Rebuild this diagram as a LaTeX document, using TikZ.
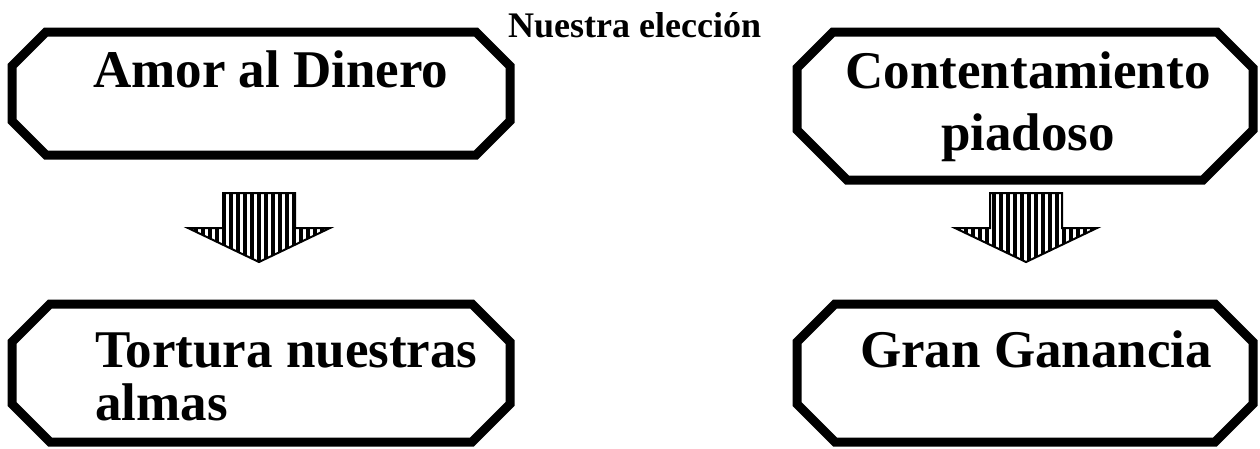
\documentclass[tikz,border=0pt]{standalone}
\usepackage{fontspec}
\setmainfont{Liberation Serif}
\usetikzlibrary{patterns.meta,positioning}
% caja octogonal: x1, y1, x2, y2, chaflan arriba, chaflan abajo
\newcommand{\cajaoct}[6]{%
  \draw[caja] (#1,#2+#5) -- (#1+#5,#2) -- (#3-#5,#2) -- (#3,#2+#5) -- (#3,#4-#6)
  -- (#3-#6,#4) -- (#1+#6,#4) -- (#1,#4-#6) -- cycle;}

\begin{document}
\begin{tikzpicture}[x=1pt,y=-1pt,
              caja/.style={draw,fill=white,line width=9pt,line join=miter},
              txt/.style={font=\fontsize{53}{54}\selectfont\bfseries,align=left,inner sep=0pt},
              flecha/.style={draw,line width=2pt,line join=miter,
                pattern={Lines[angle=90,distance=7pt,line width=3.5pt]}}]
              \useasboundingbox (0,0) rectangle (1260,448);
              \cajaoct{12}{32}{510}{155}{34}{34}
              \cajaoct{797}{32}{1253}{180}{36}{50}
              \cajaoct{12}{304}{510}{442}{38}{38}
              \cajaoct{797}{304}{1253}{442}{38}{38}
              \node[txt,anchor=base west] (amor) at (93,87) {Amor al Dinero};
              \node[txt,align=center,anchor=base,font=\fontsize{53}{62}\selectfont\bfseries]
                (conten) at (1028,150) {Contentamiento\\piadoso};
              \node[txt,anchor=base west,font=\fontsize{53}{53}\selectfont\bfseries]
                (tortura) at (95,420) {Tortura nuestras\\almas};
              \node[txt,anchor=base west] (ganancia) at (860,367) {Gran Ganancia};
              \node[font=\fontsize{36}{40}\selectfont\bfseries,inner sep=0pt,anchor=base west]
                (eleccion) at (508,37) {Nuestra elección};
              % flechas entre las cajas
              \draw[flecha] (223,193) -- (223,228) -- (188,228) -- (259,262) -- (330,228)
              -- (295,228) -- (295,193) -- cycle;
              \draw[flecha] (990,193) -- (990,228) -- (955,228) -- (1026,262) -- (1097,228)
              -- (1062,228) -- (1062,193) -- cycle;
            \end{tikzpicture}
\end{document}
